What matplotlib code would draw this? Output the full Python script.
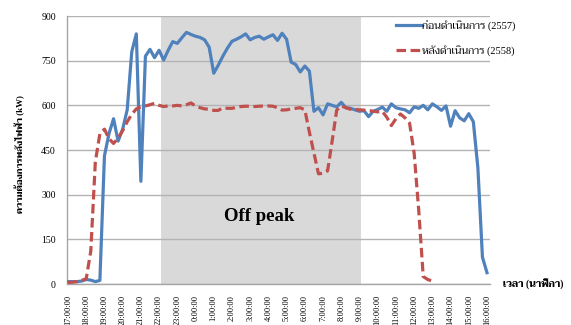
import matplotlib
matplotlib.use("Agg")
import matplotlib.pyplot as plt
import numpy as np

# ค่าความต้องการพลังไฟฟ้า ทุก 15 นาที ตั้งแต่ 17:00 ถึง 16:00 ของวันถัดไป
before_2557 = [8, 8, 8, 10, 15, 13, 8, 12, 430, 505, 555, 480, 520, 585, 780, 840, 345,
               765, 788, 760, 785, 752, 785, 814, 808, 827, 845, 838, 832, 828, 820, 795,
               708, 735, 765, 792, 815, 822, 830, 840, 820, 828, 832, 822, 830, 837, 818,
               842, 822, 745, 737, 712, 732, 715, 580, 592, 568, 605, 600, 595, 610, 592,
               590, 585, 580, 582, 562, 580, 586, 594, 580, 605, 592, 588, 585, 575, 595,
               590, 600, 585, 605, 595, 583, 598, 530, 582, 558, 548, 572, 545, 390, 90, 38]
after_2558 = [5, 6, 8, 12, 18, 110, 410, 505, 520, 488, 472, 490, 515, 545, 570, 588, 595,
              598, 602, 607, 600, 596, 598, 598, 600, 598, 602, 608, 598, 592, 588, 587,
              583, 583, 592, 590, 590, 593, 596, 597, 597, 596, 597, 598, 598, 597, 592,
              584, 585, 588, 590, 592, 585, 510, 440, 370, 372, 380, 480, 584, 598, 592,
              587, 586, 585, 584, 583, 580, 578, 580, 560, 532, 555, 571, 558, 540, 440,
              250, 25, 15, 10] + [np.nan] * 12

hours = [17, 18, 19, 20, 21, 22, 23] + list(range(0, 17))
tick_labels = ["%d:00:00" % h for h in hours]
offpeak_start = "22:00:00"
offpeak_end = "9:00:00"

thai = ["Liberation Serif", "Taviraj"]
plt.rcParams["font.family"] = thai

x = np.arange(len(before_2557))

fig = plt.figure(figsize=(5.71, 3.25), dpi=100)
ax = fig.add_axes([67 / 571, 41 / 325, 423 / 571, 268 / 325])

ax.axvspan(tick_labels.index(offpeak_start) * 4 + 0.4, tick_labels.index(offpeak_end) * 4 + 0.3,
           color="#d9d9d9", lw=0, zorder=0)
ax.yaxis.grid(True, color="#b3b3b3", lw=1, zorder=1)
ax.set_axisbelow(True)

ax.plot(x, before_2557, color="#4f81bd", lw=2.3, label="ก่อนดำเนินการ (2557)",
        solid_joinstyle="round", zorder=3)
ax.plot(x, after_2558, color="#c0504d", lw=2.3, ls=(0, (3, 1.4)),
        label="หลังดำเนินการ (2558)", zorder=3)

ax.set_xlim(-0.22, 92.66)
ax.set_ylim(0, 900)
ax.set_yticks(np.arange(0, 901, 150))
ax.set_xticks(np.arange(0, 93, 4))
ax.set_xticklabels(tick_labels, rotation=90, va="top")
ax.tick_params(axis="both", length=0)
ax.tick_params(axis="x", pad=8, labelsize=6)
ax.tick_params(axis="y", pad=8, labelsize=7)

for s in ["top", "right"]:
    ax.spines[s].set_visible(False)
for s in ["left", "bottom"]:
    ax.spines[s].set_color("#a6a6a6")
    ax.spines[s].set_linewidth(1)

ax.text(42, 228, "Off peak", fontsize=13.5, fontweight="bold", ha="center", va="center")

ax.set_ylabel("ความต้องการพลังไฟฟ้า (kW)", fontsize=6.4, fontweight="bold")
ax.yaxis.set_label_coords(-0.099, 0.485)
fig.text(503 / 571, 41 / 325, "เวลา (นาฬิกา)", fontsize=7, fontweight="bold",
         va="center", ha="left")

ax.legend(loc="upper left", bbox_to_anchor=(0.761, 1.015), frameon=False, fontsize=7.5,
          handlelength=2.5, handletextpad=0.0, labelspacing=1.4, borderaxespad=0.3)

fig.savefig("out.png", dpi=100)
